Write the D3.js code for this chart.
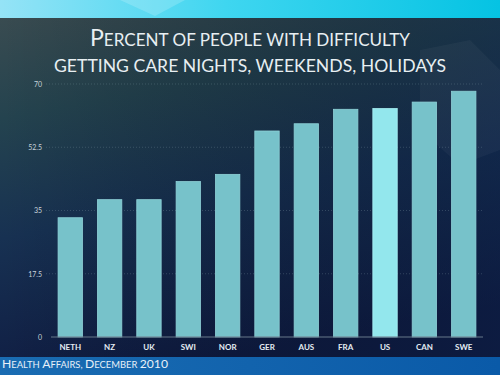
<!DOCTYPE html>
<html><head><meta charset="utf-8">
<script src="https://cdn.jsdelivr.net/npm/d3@7"></script>
<style>html,body{margin:0;padding:0;background:#1a2a40;}svg{display:block;}</style>
</head><body>
<svg id="c" width="500" height="375"></svg>
<script>
const categories = ["NETH","NZ","UK","SWI","NOR","GER","AUS","FRA","US","CAN","SWE"];
const values = [33, 38, 38, 43, 45, 57, 59, 63, 63.2, 65, 68];
const highlight = "US";
const yTicks = [0, 17.5, 35, 52.5, 70];
const yTickLabels = ["0","17.5","35","52.5","70"];
const titleLines = ["Percent of people with difficulty", "getting care nights, weekends, holidays"];
const sourceText = "Health Affairs, December 2010";

const W = 500, H = 375;
const svg = d3.select("#c");
const defs = svg.append("defs");

const gMain = defs.append("linearGradient").attr("id","gMain").attr("x1",0).attr("y1",0).attr("x2",0.25).attr("y2",1);
gMain.append("stop").attr("offset","0").attr("stop-color","#3d4d51");
gMain.append("stop").attr("offset","0.3").attr("stop-color","#24434f");
gMain.append("stop").attr("offset","0.6").attr("stop-color","#173152");
gMain.append("stop").attr("offset","1").attr("stop-color","#0f1b42");
const gTop = defs.append("linearGradient").attr("id","gTop").attr("x1",0).attr("y1",0).attr("x2",1).attr("y2",0);
gTop.append("stop").attr("offset","0").attr("stop-color","#95e3f6");
gTop.append("stop").attr("offset","0.45").attr("stop-color","#3fd6f0");
gTop.append("stop").attr("offset","1").attr("stop-color","#05c3e3");
const gBot = defs.append("linearGradient").attr("id","gBot").attr("x1",0).attr("y1",0).attr("x2",1).attr("y2",0);
gBot.append("stop").attr("offset","0").attr("stop-color","#1a6cb2");
gBot.append("stop").attr("offset","1").attr("stop-color","#0a5aa8");
const gRight = defs.append("linearGradient").attr("id","gRight").attr("x1",0).attr("y1",0).attr("x2",1).attr("y2",0);
gRight.append("stop").attr("offset","0").attr("stop-color","#000").attr("stop-opacity",0);
gRight.append("stop").attr("offset","1").attr("stop-color","#0a1c40").attr("stop-opacity",0.45);

svg.append("rect").attr("width",W).attr("height",H).attr("fill","url(#gMain)");
svg.append("rect").attr("width",W).attr("height",H).attr("fill","url(#gRight)");
// faint hexagon decoration
svg.append("polygon").attr("points","420,50 470,40 500,70 500,150 460,165 420,130")
  .attr("fill","#ffffff").attr("opacity",0.035);
svg.append("rect").attr("width",W).attr("height",18).attr("fill","url(#gTop)");
svg.append("polygon").attr("points","120,0 185,0 155,16").attr("fill","#ffffff").attr("opacity",0.18);
svg.append("rect").attr("y",357).attr("width",W).attr("height",18).attr("fill","url(#gBot)");

const x = d3.scaleBand().domain(categories).range([51, 483]).paddingInner(0.38).paddingOuter(0.18);
const y = d3.scaleLinear().domain([0, 70]).range([337, 84]);

// gridlines
svg.append("g").selectAll("line").data(yTicks.filter(d=>d>0)).join("line")
  .attr("x1",46).attr("x2",483).attr("y1",d=>y(d)).attr("y2",d=>y(d))
  .attr("stroke","#8fa6b4").attr("stroke-opacity",0.35).attr("stroke-width",0.8)
  .attr("stroke-dasharray","1,2");

// bars
svg.append("g").selectAll("rect").data(categories).join("rect")
  .attr("x",d=>x(d)).attr("width",x.bandwidth())
  .attr("y",(d,i)=>y(values[i])).attr("height",(d,i)=>y(0)-y(values[i]))
  .attr("fill",d=>d===highlight?"#93e7ed":"#77c2ca")
  .attr("stroke",d=>d===highlight?"#a8f0f4":"#8fd2d8").attr("stroke-width",0.8);

// axis baseline
svg.append("line").attr("x1",51).attr("x2",483).attr("y1",y(0)).attr("y2",y(0))
  .attr("stroke","#66788a").attr("stroke-width",1);

// y tick labels
const yAxis = d3.axisLeft(y).tickValues(yTicks).tickFormat((d,i)=>yTickLabels[i]).tickSize(0).tickPadding(0);
const ya = svg.append("g").attr("transform","translate(42,0)").call(yAxis);
ya.select(".domain").remove();
ya.selectAll("text").attr("fill","#c8d2da").attr("font-family","Lato, 'Open Sans', sans-serif")
  .attr("font-size",7).attr("dy","0.32em");

// x labels
const xAxis = d3.axisBottom(x).tickSize(0).tickPadding(0);
const xa = svg.append("g").attr("transform","translate(0,344)").call(xAxis);
xa.select(".domain").remove();
xa.selectAll("text").attr("fill","#e4ecf2").attr("font-family","Lato, 'Open Sans', sans-serif")
  .attr("font-size",8).attr("font-weight","bold").attr("dy","0.71em");

function mergeCaps(textSel, str, big, small) {
  const runs = [];
  for (const ch of str) {
    const isBig = ch !== ch.toLowerCase() || /[0-9]/.test(ch);
    const sz = isBig ? big : small;
    if (runs.length && runs[runs.length-1].sz === sz) runs[runs.length-1].t += ch.toUpperCase();
    else runs.push({sz, t: ch.toUpperCase()});
  }
  runs.forEach(r => textSel.append("tspan").attr("font-size", r.sz).text(r.t));
}

const t1 = svg.append("text").attr("x",250).attr("y",46).attr("text-anchor","middle")
  .attr("fill","#e8eff2").attr("font-family","Lato, 'Open Sans', sans-serif").attr("font-weight",400)
  .attr("textLength",320).attr("lengthAdjust","spacingAndGlyphs");
mergeCaps(t1, titleLines[0], 23, 17);
const t2 = svg.append("text").attr("x",250).attr("y",72).attr("text-anchor","middle")
  .attr("fill","#e8eff2").attr("font-family","Lato, 'Open Sans', sans-serif").attr("font-weight",400)
  .attr("textLength",392).attr("lengthAdjust","spacingAndGlyphs");
mergeCaps(t2, titleLines[1], 23, 17);

const ft = svg.append("text").attr("x",2).attr("y",367.5)
  .attr("fill","#e8f0f8").attr("font-family","Lato, 'Open Sans', sans-serif").attr("font-weight",400)
  .attr("textLength",166).attr("lengthAdjust","spacingAndGlyphs");
mergeCaps(ft, sourceText, 11, 8.5);
</script>
</body></html>
